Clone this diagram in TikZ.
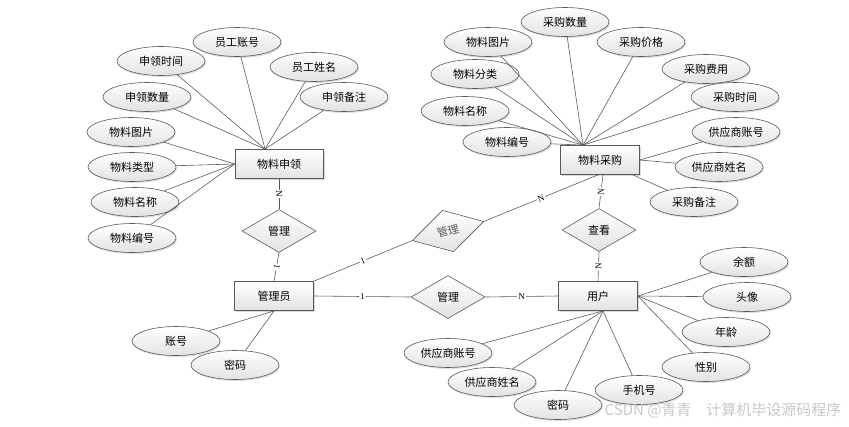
\documentclass[tikz,border=0pt]{standalone}
\usepackage{fontspec}
\setmainfont{Liberation Serif}
\newfontfamily\cjk{Noto Sans CJK SC}
\usetikzlibrary{shapes.geometric, positioning, calc, shadows}
\definecolor{erline}{RGB}{90, 90, 90}
\definecolor{erfill}{RGB}{226, 226, 226}
\definecolor{wmgray}{RGB}{200, 200, 200}
\tikzset{
  attr/.style={ellipse, draw=erline, line width=0.6pt, top color=white, bottom color=erfill,
    minimum width=88pt, minimum height=29pt, inner sep=0pt,
    font=\cjk\fontsize{11}{13}\selectfont,
    drop shadow={opacity=0.25, shadow xshift=1pt, shadow yshift=-1.5pt}},
  entity/.style={rectangle, draw=erline, line width=0.8pt, top color=white, bottom color=erfill,
    minimum width=79pt, minimum height=29pt, inner sep=0pt,
    font=\cjk\fontsize{11}{13}\selectfont,
    drop shadow={opacity=0.3, shadow xshift=1.5pt, shadow yshift=-1.5pt}},
  rel/.style={diamond, draw=erline, line width=0.6pt, top color=white, bottom color=erfill,
    minimum width=74pt, minimum height=43pt, inner sep=0pt,
    font=\cjk\fontsize{11}{13}\selectfont},
  link/.style={draw=erline, line width=0.6pt},
  card/.style={fill=white, inner sep=1pt, font=\fontsize{9}{10}\selectfont}
}

\begin{document}
\begin{tikzpicture}[x=1pt, y=-1pt]
  \useasboundingbox (0,0) rectangle (849,426);

  % entities
  \node[entity, minimum width=88pt] (apply) at (279,164) {物料申领};
  \node[entity] (purchase) at (600,160) {物料采购};
  \node[entity] (admin) at (274,296) {管理员};
  \node[entity] (user) at (598,296) {用户};

  % relationships
  \node[rel] (mgrA) at (279,231) {管理};
  \node[rel, rotate=15, text=black!65] (mgrB) at (448,231) {管理};
  \node[rel] (mgrC) at (448,297) {管理};
  \node[rel] (view) at (599,230) {查看};

  % attributes of 物料申领
  \node[attr] (a1) at (237,42) {员工账号};
  \node[attr] (a2) at (161,61) {申领时间};
  \node[attr] (a3) at (314,67) {员工姓名};
  \node[attr] (a4) at (147,97) {申领数量};
  \node[attr] (a5) at (344,97) {申领备注};
  \node[attr] (a6) at (131,132) {物料图片};
  \node[attr] (a7) at (132,167) {物料类型};
  \node[attr] (a8) at (135,202) {物料名称};
  \node[attr] (a9) at (132,238) {物料编号};
  \coordinate (apply-top) at ([xshift=-14pt]apply.north);

  % attributes of 物料采购
  \node[attr] (p1) at (565,22) {采购数量};
  \node[attr] (p2) at (488,42) {物料图片};
  \node[attr] (p3) at (641,42) {采购价格};
  \node[attr] (p4) at (475,74) {物料分类};
  \node[attr] (p5) at (706,69) {采购费用};
  \node[attr] (p6) at (465,111) {物料名称};
  \node[attr] (p7) at (735,97) {采购时间};
  \node[attr] (p8) at (507,142) {物料编号};
  \node[attr] (p9) at (736,132) {供应商账号};
  \node[attr] (p10) at (719,167) {供应商姓名};
  \node[attr] (p11) at (694,202) {采购备注};
  \coordinate (purchase-top) at ([xshift=-17pt]purchase.north);
  \coordinate (purchase-se) at ([xshift=-7pt]purchase.south east);

  % attributes of 管理员
  \node[attr] (m1) at (176,341) {账号};
  \node[attr] (m2) at (235,365) {密码};

  % attributes of 用户
  \node[attr] (u1) at (744,262) {余额};
  \node[attr] (u2) at (747,297) {头像};
  \node[attr] (u3) at (726,332) {年龄};
  \node[attr] (u4) at (706,367) {性别};
  \node[attr] (u5) at (639,390) {手机号};
  \node[attr] (u6) at (558,405) {密码};
  \node[attr] (u7) at (492,382) {供应商姓名};
  \node[attr] (u8) at (448,353) {供应商账号};
  \coordinate (user-bottom) at ([xshift=5pt]user.south);

  % attribute links
  \foreach \a in {a1,a2,a3,a4,a5} \draw[link] (\a) -- (apply-top);
  \foreach \a in {a6,a7,a8,a9} \draw[link] (\a) -- (apply.west);
  \foreach \a in {p1,p2,p3,p4,p5,p6,p7,p8} \draw[link] (\a) -- (purchase-top);
  \draw[link] (p9) -- (purchase.east);
  \draw[link] (p10) -- (purchase.east);
  \draw[link] (p11) -- (purchase-se);
  \foreach \a in {m1,m2} \draw[link] (\a) -- (admin.south);
  \foreach \a in {u1,u2,u3,u4} \draw[link] (\a) -- (user.east);
  \foreach \a in {u5,u6,u7,u8} \draw[link] (\a) -- (user-bottom);

  % relationship links
  \draw[link] (apply.south) -- node[card, sloped] {N} (mgrA.north);
  \draw[link] (mgrA.south) -- node[card, sloped] {1} (admin.north);
  \draw[link] (admin.north east) -- node[card, sloped] {1} (mgrB.west);
  \draw[link] (mgrB.east) -- node[card, sloped] {N} ([xshift=-2pt]purchase.south);
  \draw[link] ([xshift=3pt]purchase.south) -- node[card, sloped] {N} (view.north);
  \draw[link] (view.south) -- node[card, sloped] {N} (user.north);
  \draw[link] (admin.east) -- node[card] {1} (mgrC.west);
  \draw[link] (mgrC.east) -- node[card] {N} (user.west);

  % watermark
  \node[text=wmgray, font=\cjk\fontsize{15}{17}\selectfont, anchor=east] (wm) at (845,410) {CSDN @青青\quad 计算机毕设源码程序};
\end{tikzpicture}
\end{document}
